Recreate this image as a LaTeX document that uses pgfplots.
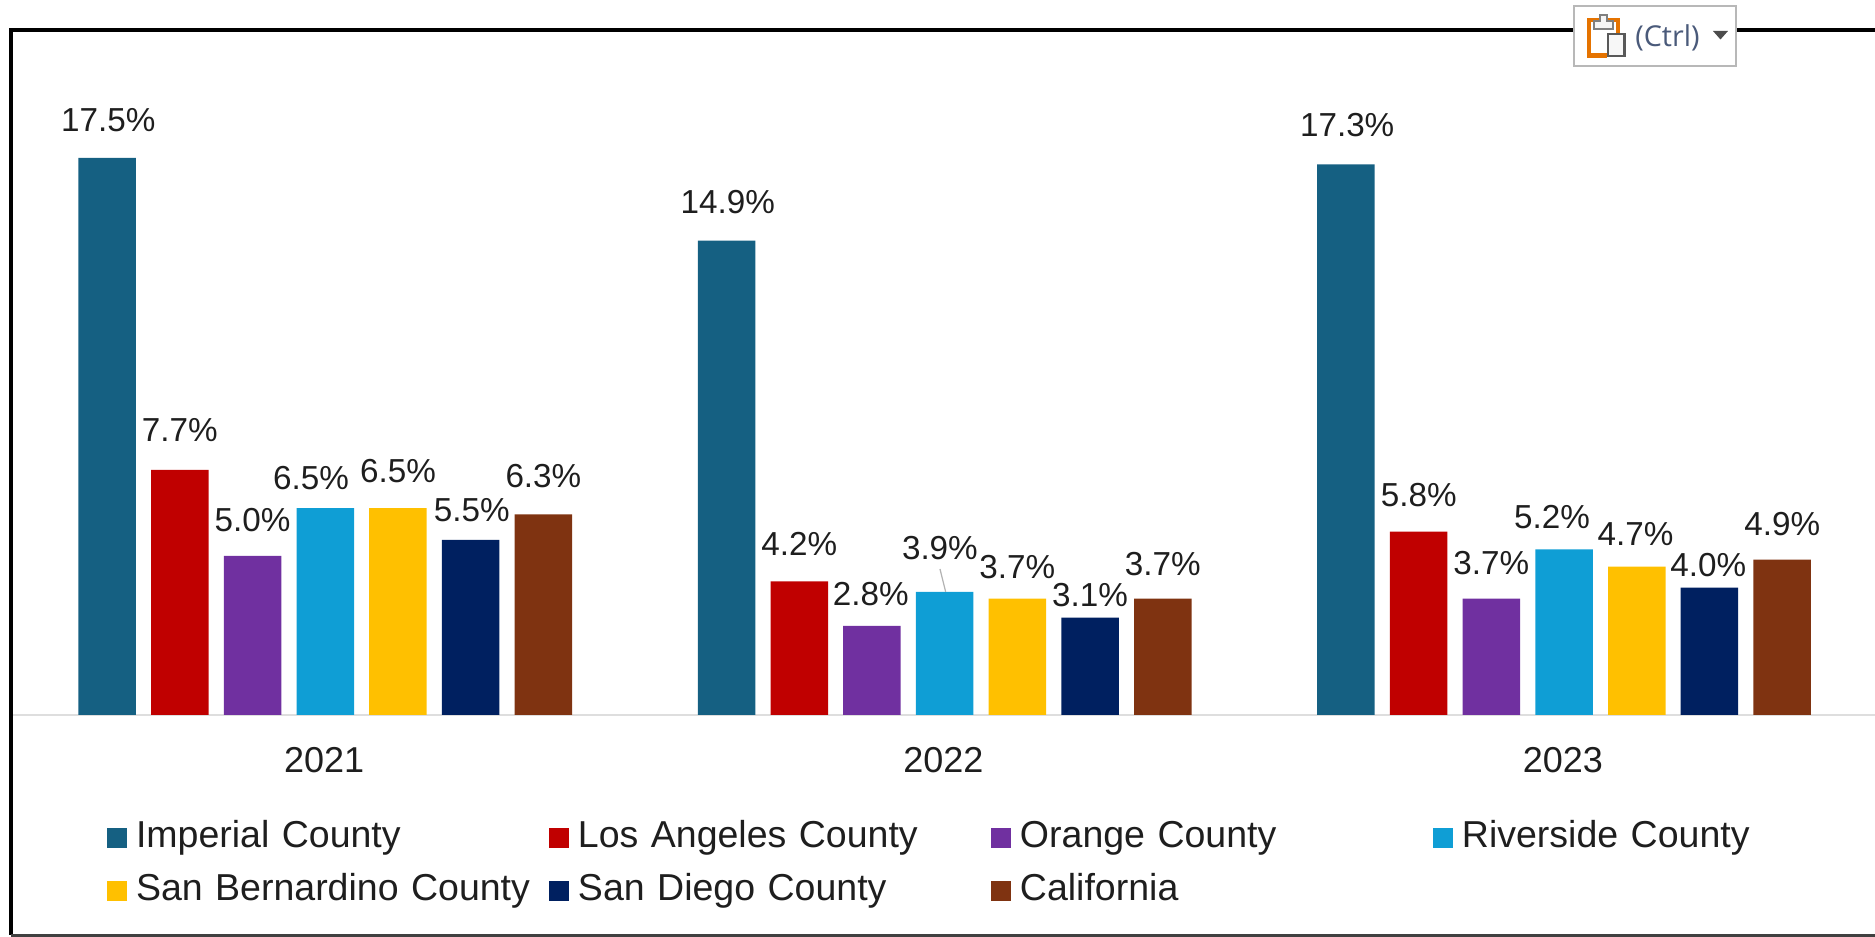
\documentclass[border=0pt]{standalone}
\usepackage{fontspec}
\setmainfont{Liberation Sans}
\newfontfamily\uifont{Open Sans}
\usepackage{pgfplots}
\pgfplotsset{compat=1.18}
\definecolor{cImp}{HTML}{156082}
\definecolor{cLA}{HTML}{C00000}
\definecolor{cOra}{HTML}{7030A0}
\definecolor{cRiv}{HTML}{0F9ED5}
\definecolor{cSB}{HTML}{FFC000}
\definecolor{cSD}{HTML}{002060}
\definecolor{cCal}{HTML}{7F3311}
\definecolor{txt}{HTML}{1E1E1E}
\definecolor{ctrltxt}{HTML}{4A5A7A}
\pgfplotsset{
  ser/.style n args={2}{
    ybar, bar width=23pt, bar shift=#2*29.08pt, fill=#1, draw=none,
    area legend,
    legend image code/.code={\fill[#1] (0pt,-4pt) rectangle (8pt,4pt);},
    visualization depends on={\thisrow{dx} \as \dxv},
    visualization depends on={\thisrow{dy} \as \dyv},
    nodes near coords={\pgfmathprintnumber[assume math mode=true,fixed,fixed zerofill,precision=1]{\pgfplotspointmeta}\%},
    every node near coord/.append style={
      anchor=center, inner sep=0pt, text=txt, font=\fontsize{13.3}{15}\selectfont,
      xshift=#2*29.08pt+\dxv*0.478pt, yshift=\dyv*0.478pt},
  }
}
\begin{document}
\begin{tikzpicture}
\useasboundingbox (0,0) rectangle (750pt,374.8pt);
\begin{axis}[
  at={(5pt,88.8pt)}, anchor=south west,
  scale only axis, width=745pt, height=280.1pt,
  xmin=-0.505, xmax=2.502, ymin=0, ymax=22,
  axis y line=none, axis x line=bottom,
  axis line style={draw=black!13, line width=1.1pt, -},
  xtick={0,1,2}, xticklabels={2021,2022,2023},
  major tick length=0pt,
  xticklabel style={font=\fontsize{14.4}{16}\selectfont, text=txt, yshift=-9.5pt, xshift=-0.5pt},
  clip=false,
  legend columns=4,
  legend cell align=left,
  legend style={
    at={(37.8pt,-42pt)}, anchor=north west, draw=none, fill=none,
    font=\fontsize{15}{16}\selectfont, text=txt,
    inner sep=0pt, outer sep=0pt, row sep=6.8pt, column sep=0pt,
    nodes={inner sep=0pt, outer sep=0pt, text height=11pt, text depth=3.4pt},
    /tikz/column 2/.style={text width=165.2pt, align=left},
    /tikz/column 4/.style={text width=165.2pt, align=left},
    /tikz/column 6/.style={text width=165.2pt, align=left},
    /tikz/column 8/.style={text width=120pt, align=left},
    /tikz/column 1/.style={column sep=3.6pt},
    /tikz/column 3/.style={column sep=3.6pt},
    /tikz/column 5/.style={column sep=3.6pt},
    /tikz/column 7/.style={column sep=3.6pt},
  },
]
\addplot[ser={cImp}{-3}] table {
x y dx dy
0 17.5 1 32
1 14.9 1 32
2 17.3 1 33
};
\addlegendentry{Imperial County}
\addplot[ser={cLA}{-2}] table {
x y dx dy
0 7.7 0 33
1 4.2 0 31
2 5.76 0 31
};
\addlegendentry{Los Angeles County}
\addplot[ser={cOra}{-1}] table {
x y dx dy
0 5.0 0 30
1 2.8 -1 27
2 3.66 0 30
};
\addlegendentry{Orange County}
\addplot[ser={cRiv}{0}] table {
x y dx dy
0 6.5 -12 25
1 3.87 -4 37
2 5.2 -10 27
};
\addlegendentry{Riverside County}
\addplot[ser={cSB}{1}] table {
x y dx dy
0 6.5 0 31
1 3.66 0 26
2 4.66 -1 27
};
\addlegendentry{San Bernardino County}
\addplot[ser={cSD}{2}] table {
x y dx dy
0 5.5 1 25
1 3.06 0 19
2 4.0 -1 19
};
\addlegendentry{San Diego County}
\addplot[ser={cCal}{3}] table {
x y dx dy
0 6.3 0 32
1 3.66 0 29
2 4.88 0 30
};
\addlegendentry{California}
\addplot[forget plot, draw=black!30, line width=0.5pt] coordinates {(0.9924,4.587) (1.0016,3.87)};
\end{axis}
\begin{scope}[x=0.4pt,y=-0.4pt,yshift=374.8pt]
  \draw[black,line width=1.6pt] (1875,30.5) -- (11,30.5) -- (11,935.5);
  \draw[black!75,line width=1pt] (11,935.5) -- (1875,935.5);
  \draw[black!28,fill=white,line width=0.8pt] (1574,6) rectangle (1736.5,66.5);
  \draw[orange!90!black,line width=1.8pt] (1607,55.5) -- (1589,55.5) -- (1589,20) -- (1618,20) -- (1618,33);
  \draw[black!50,fill=black!4,line width=1pt] (1594,29) -- (1594,21) -- (1600,21) -- (1600,15) -- (1607,15) -- (1607,21) -- (1613,21) -- (1613,29) -- cycle;
  \draw[black!65,fill=black!3,line width=1.1pt] (1608,34) rectangle (1624.5,56);
  \node[anchor=center,inner sep=0pt,text=ctrltxt,font=\uifont\fontsize{11.5}{12}\selectfont] at (1667.5,38) {(Ctrl)};
  \fill[black!70] (1713,31) -- (1728,31) -- (1720.5,39.5) -- cycle;
\end{scope}
\end{tikzpicture}
\end{document}
